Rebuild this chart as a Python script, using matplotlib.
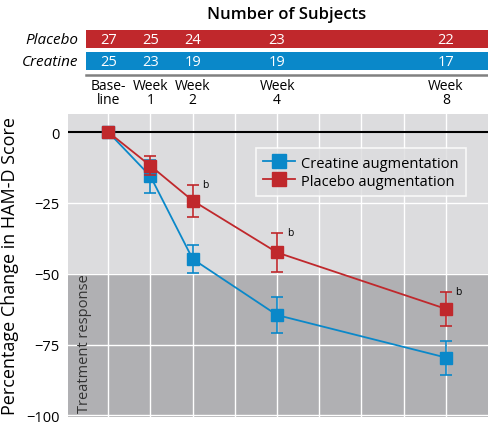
import matplotlib
matplotlib.use("Agg")
import matplotlib.pyplot as plt
from matplotlib.lines import Line2D

plt.rcParams['font.family'] = ['Open Sans', 'DejaVu Sans']

weeks = [0, 1, 2, 4, 8]
week_labels = ["Base-\nline", "Week\n1", "Week\n2", "Week\n4", "Week\n8"]
creatine = [0, -15.6, -44.8, -64.6, -79.6]
creatine_err = [0, 5.8, 5.0, 6.2, 6.0]
placebo = [0, -11.9, -24.2, -42.5, -62.4]
placebo_err = [0, 3.3, 5.7, 6.9, 6.1]
n_placebo = [27, 25, 24, 23, 22]
n_creatine = [25, 23, 19, 19, 17]
sig_weeks = [2, 4, 8]
yticks = [0, -25, -50, -75, -100]

BLUE = '#0a88c9'
RED = '#c0282c'
LIGHT = '#dcdcde'
DARK = '#b0b0b3'

W, H = 490, 435
fig = plt.figure(figsize=(W / 100, H / 100), dpi=100)

xlim = (-0.955, 9.0)
ax = fig.add_axes([68 / W, 1 - 418 / H, 420 / W, (418 - 115) / H])
ax.set_xlim(*xlim)
ax.set_ylim(-100.6, 6.4)
ax.set_facecolor(LIGHT)
ax.axhspan(-101, -50, color=DARK, zorder=0)
for s in ax.spines.values():
    s.set_visible(False)
for x in range(0, 9):
    ax.axvline(x, color='white', lw=1.0, zorder=1)
for y in [-25, -50, -75, -100]:
    ax.axhline(y, color='white', lw=1.0, zorder=1)
ax.axhline(0, color='black', lw=1.5, zorder=2)
ax.set_xticks([])
ax.set_yticks(yticks)
ax.set_yticklabels(['0', '\u221225', '\u221250', '\u221275', '\u2212100'], fontsize=10.5)
ax.tick_params(axis='y', length=0, pad=6)
ax.set_ylabel('Percentage Change in HAM-D Score', fontsize=13, labelpad=5)

MS = 8.5
ax.errorbar(weeks, creatine, yerr=creatine_err, color=BLUE, marker='s', ms=MS,
            lw=1.3, capsize=4, capthick=1.2, elinewidth=1.2, zorder=3,
            label='Creatine augmentation')
ax.errorbar(weeks, placebo, yerr=placebo_err, color=RED, marker='s', ms=MS,
            lw=1.3, capsize=4, capthick=1.2, elinewidth=1.2, zorder=4,
            label='Placebo augmentation')
for w in sig_weeks:
    i = weeks.index(w)
    ax.annotate('b', (w, placebo[i] + placebo_err[i]), xytext=(7, 0),
                textcoords='offset points', fontsize=7.5, ha='left', va='center')

ax.text(-0.75, -99, 'Treatment response', rotation=90, fontsize=10.5,
        color='#333333', ha='left', va='bottom')

handles = [Line2D([], [], color=BLUE, marker='s', ms=9.5, lw=1.3),
           Line2D([], [], color=RED, marker='s', ms=9.5, lw=1.3)]
leg = ax.legend(handles, ['Creatine augmentation', 'Placebo augmentation'],
                loc='upper right', bbox_to_anchor=((473 - 68) / 420, 1 - (142 - 115) / 303),
                fontsize=10.5, frameon=True, fancybox=False, handlelength=2.2,
                handletextpad=0.4, borderpad=0.5, labelspacing=0.2)
leg.get_frame().set_facecolor(LIGHT)
leg.get_frame().set_edgecolor('white')
leg.get_frame().set_linewidth(1.2)

# Top table of subjects
axt = fig.add_axes([68 / W, 1 - 110 / H, 420 / W, 110 / H])
axt.set_xlim(*xlim)
axt.set_ylim(110, 0)
axt.axis('off')
x0 = (85.7 - 108.3) / 42.2
axt.barh(40, xlim[1] - x0, left=x0, height=18, color=RED)
axt.barh(61.8, xlim[1] - x0, left=x0, height=18.3, color=BLUE)
axt.plot([x0, xlim[1]], [76.3, 76.3], color='#808080', lw=1.8)
for w, a, b in zip(weeks, n_placebo, n_creatine):
    axt.text(w, 40.5, str(a), color='white', ha='center', va='center', fontsize=10.5)
    axt.text(w, 62.3, str(b), color='white', ha='center', va='center', fontsize=10.5)
for w, lab in zip(weeks, week_labels):
    axt.text(w, 78.5, lab, ha='center', va='top', fontsize=10, linespacing=1.0)

fig.text(287 / W, 1 - 15 / H, 'Number of Subjects', ha='center', va='center',
         fontsize=12, fontweight='semibold')
fig.text(78 / W, 1 - 40 / H, 'Placebo', ha='right', va='center', fontsize=11, style='italic')
fig.text(78 / W, 1 - 62 / H, 'Creatine', ha='right', va='center', fontsize=11, style='italic')

fig.savefig('out.png', dpi=100)
